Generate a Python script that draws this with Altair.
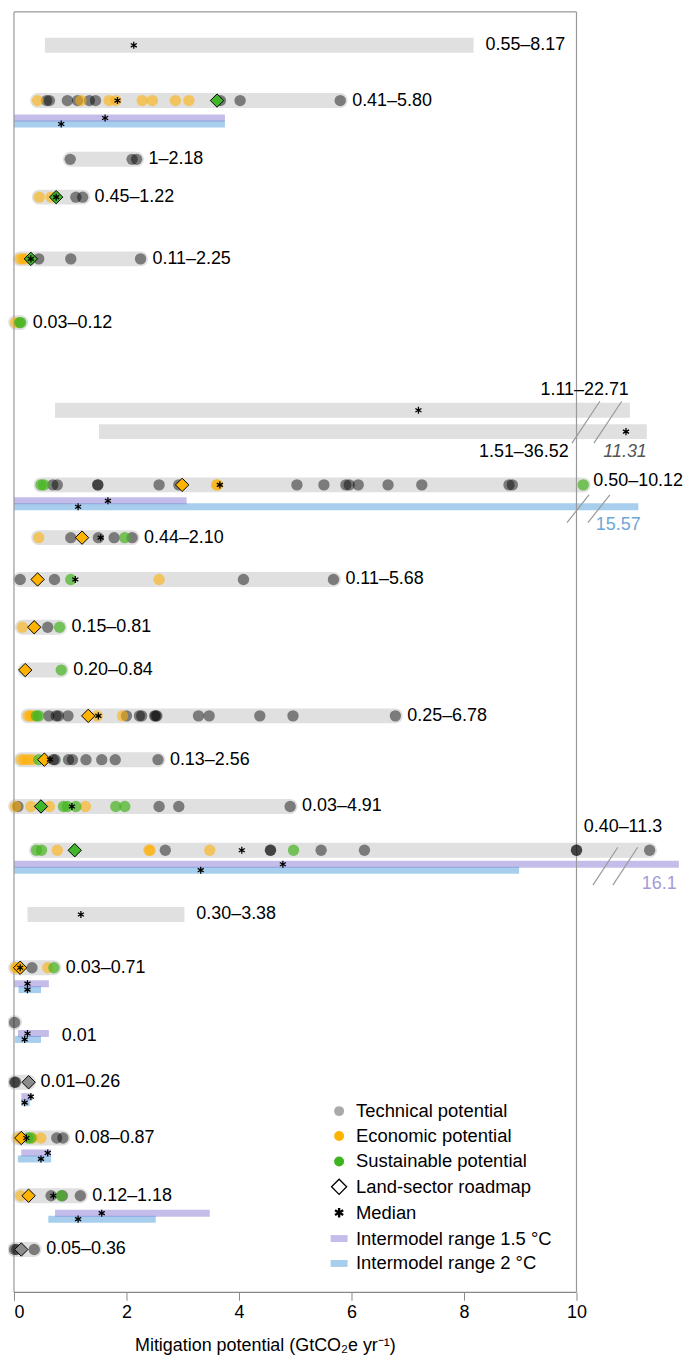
import altair as alt
import pandas as pd

# ---------------- data ----------------
RANGE_LABELS = ["0.55–8.17", "0.41–5.80", "1–2.18", "0.45–1.22", "0.11–2.25", "0.03–0.12",
                "1.11–22.71", "1.51–36.52", "0.50–10.12", "0.44–2.10", "0.11–5.68", "0.15–0.81",
                "0.20–0.84", "0.25–6.78", "0.13–2.56", "0.03–4.91", "0.40–11.3", "0.30–3.38",
                "0.03–0.71", "0.01", "0.01–0.26", "0.08–0.87", "0.12–1.18", "0.05–0.36"]

TECHNICAL = {
    1: [0.58, 0.63, 0.95, 1.13, 1.34, 1.45, 3.67, 4.02, 5.80],
    2: [1.0, 2.10, 2.18],
    3: [1.10, 1.22],
    4: [0.44, 1.01, 2.25],
    8: [0.69, 0.77, 1.49, 1.49, 2.58, 2.93, 5.03, 5.51, 5.90, 5.96, 6.12, 6.65, 7.25, 8.80, 8.86],
    9: [1.01, 1.50, 1.78, 2.10],
    10: [0.11, 0.72, 4.08, 5.68],
    11: [0.60],
    13: [0.62, 0.75, 0.79, 0.96, 2.00, 2.23, 2.27, 2.50, 2.52, 2.54, 3.28, 3.47, 4.37, 4.96, 6.78],
    14: [0.70, 0.73, 0.97, 1.04, 1.28, 1.56, 1.80, 2.56],
    15: [0.07, 2.58, 2.93, 4.91],
    16: [2.69, 4.56, 4.56, 5.46, 6.23, 10.0, 10.0, 11.3],
    18: [0.32],
    19: [0.01],
    20: [0.01, 0.03],
    21: [0.76, 0.87],
    22: [0.66, 0.86, 1.18],
    23: [0.01, 0.05, 0.36],
}
ECONOMIC = {
    1: [0.42, 1.19, 1.69, 1.81, 2.28, 2.46, 2.87, 3.11],
    3: [0.45, 0.66],
    4: [0.11, 0.16, 0.21],
    5: [0.03],
    8: [3.60, 3.62],
    9: [0.44],
    10: [2.58],
    11: [0.15],
    13: [0.25, 0.29, 0.34, 1.48, 1.93],
    14: [0.13, 0.19, 0.26, 0.33],
    15: [0.03, 0.30, 0.63, 1.27],
    16: [0.77, 2.40, 2.42, 3.48],
    18: [0.03, 0.05, 0.60],
    21: [0.08, 0.33, 0.48],
    22: [0.12],
}
SUSTAINABLE = {
    5: [0.10, 0.12],
    8: [0.48, 0.53, 10.12],
    9: [1.97],
    10: [1.01],
    11: [0.81],
    12: [0.84],
    13: [0.40, 0.44],
    14: [0.44],
    15: [0.88, 0.95, 1.10, 1.81, 1.97],
    16: [0.40, 0.49, 4.97],
    18: [0.71],
    21: [0.25, 0.30],
    22: [0.84],
}
ROADMAP = {1: (3.61, "sust"), 3: (0.75, "sust"), 4: (0.30, "sust"), 8: (2.99, "econ"),
           9: (1.21, "econ"), 10: (0.42, "econ"), 11: (0.36, "econ"), 12: (0.20, "econ"),
           13: (1.32, "econ"), 14: (0.54, "econ"), 15: (0.48, "sust"), 16: (1.08, "sust"),
           18: (0.11, "econ"), 20: (0.26, "tech"), 21: (0.13, "econ"), 22: (0.26, "econ"),
           23: (0.13, "tech")}
MEDIAN = {0: 2.13, 1: 1.84, 3: 0.75, 4: 0.30, 6: 7.19, 7: 10.88, 8: 3.66, 9: 1.54, 10: 1.09,
          13: 1.50, 14: 0.64, 15: 1.03, 16: 4.05, 17: 1.19, 18: 0.11, 21: 0.22, 22: 0.70}
RANGE_ONLY = {0: (0.55, 8.17), 6: (0.73, 10.95), 7: (1.51, 11.25), 17: (0.24, 3.03)}
IAM_15 = {1: (0.0, 3.75, 1.62), 8: (0.0, 3.07, 1.67), 16: (0.0, 11.82, 4.78),
          18: (0.0, 0.62, 0.24), 19: (0.07, 0.62, 0.24), 20: (0.13, 0.33, 0.30),
          21: (0.13, 0.66, 0.60), 22: (0.73, 3.48, 1.56)}
IAM_20 = {1: (0.0, 3.75, 0.84), 8: (0.0, 11.1, 1.14), 16: (0.0, 8.98, 3.32),
          18: (0.08, 0.48, 0.24), 19: (0.02, 0.48, 0.19), 20: (0.13, 0.28, 0.19),
          21: (0.07, 0.66, 0.48), 22: (0.61, 2.52, 1.14)}
BREAK_TEXTS = ["11.31", "15.57", "16.1"]
LEGEND_LABELS = ["Technical potential", "Economic potential", "Sustainable potential",
                 "Land-sector roadmap", "Median", "Intermodel range 1.5 °C", "Intermodel range 2 °C"]
TICKS = [0, 2, 4, 6, 8, 10]
X_TITLE = "Mitigation potential (GtCO₂e yr⁻¹)"

# ---------------- layout ----------------
XMAX = 12.0
W = 678
PPU = W / XMAX
TOP, BOTTOM = 9, 1295
H = BOTTOM - TOP
ROW_Y = [42.5, 98, 157, 195, 257, 321, 409, 430.5, 484, 537, 579, 627, 670, 716, 760, 807, 851,
         915.5, 969, 1024, 1084, 1140, 1198, 1252]
IAM_Y = {1: 115.5, 8: 500, 16: 865, 18: 985, 19: 1035, 20: 1098.5, 21: 1155, 22: 1215.5}
IAM_GAP = 6
SPECIAL_LABELS = {  # row: (x, y, align)
    6: (10.93, 389, "right"), 7: (9.86, 451, "right"), 8: (10.30, 480, "left"),
    16: (10.13, 828, "left"), 19: (0.62 + 13 / PPU, 1038, "left")}
BREAK_TEXT_POS = [(11.25, 451, "#555555", True), (11.14, 524, "#6fa7d6", False),
                  (11.78, 885, "#a59bd6", False)]
SLASHES = [(575, 442, 603, 400), (597, 442, 625, 400), (570, 522, 592, 494),
           (591, 522, 613, 494), (596, 886, 621, 848), (616, 886, 641, 848)]
LEG_SYM_X, LEG_TXT_X = 5.78, 6.08
LEG_Y = [1113, 1138, 1163.5, 1189, 1215, 1241, 1266]
FONT = "Liberation Sans"
FS = 18
LEG_FS = 18.5

def px2x(px):
    return (px - 14.5) / PPU

XS = alt.Scale(domain=[0, XMAX], nice=False, zero=False)
YS = alt.Scale(domain=[TOP, BOTTOM], reverse=True, nice=False, zero=False)
XAX = alt.Axis(values=TICKS, title=X_TITLE, domain=False, grid=False, tickSize=8,
               tickColor="#888888", labelFont=FONT, labelFontSize=FS, labelColor="black",
               labelPadding=3, titleFont=FONT, titleFontSize=FS, titleFontWeight="normal",
               titleColor="black", titleX=252, titleY=53, titleAlign="center",
               titleBaseline="middle", format="d")

def X(f="x"):
    return alt.X(f + ":Q", scale=XS, axis=XAX)

def Y(f="y"):
    return alt.Y(f + ":Q", scale=YS, axis=None)

ASTERISK = "M0,-1L0,1M-0.866,-0.5L0.866,0.5M-0.866,0.5L0.866,-0.5"

# ---------------- tables ----------------
pts = []
for kind, src in (("tech", TECHNICAL), ("econ", ECONOMIC), ("sust", SUSTAINABLE)):
    for r, vals in src.items():
        for v in vals:
            pts.append({"x": v, "y": ROW_Y[r], "kind": kind})
pts_df = pd.DataFrame(pts)

round_bars = []
row_max = {}
for r in range(len(RANGE_LABELS)):
    vals = TECHNICAL.get(r, []) + ECONOMIC.get(r, []) + SUSTAINABLE.get(r, [])
    if r in ROADMAP:
        vals = vals + [ROADMAP[r][0]]
    if vals:
        round_bars.append({"x": min(vals), "x2": max(vals), "y": ROW_Y[r]})
        row_max[r] = max(vals)
round_df = pd.DataFrame(round_bars)
flat_df = pd.DataFrame([{"x": lo, "x2": hi, "y": ROW_Y[r]} for r, (lo, hi) in RANGE_ONLY.items()])
for r, (lo, hi) in RANGE_ONLY.items():
    row_max[r] = hi

road_df = pd.DataFrame([{"x": v, "y": ROW_Y[r], "kind": k} for r, (v, k) in ROADMAP.items()])
med = [{"x": v, "y": ROW_Y[r]} for r, v in MEDIAN.items()]
iam15 = [{"x": lo, "x2": hi, "y": IAM_Y[r]} for r, (lo, hi, m) in IAM_15.items()]
iam20 = [{"x": lo, "x2": hi, "y": IAM_Y[r] + IAM_GAP} for r, (lo, hi, m) in IAM_20.items()]
med += [{"x": m, "y": IAM_Y[r]} for r, (lo, hi, m) in IAM_15.items()]
med += [{"x": m, "y": IAM_Y[r] + IAM_GAP} for r, (lo, hi, m) in IAM_20.items()]
med_df = pd.DataFrame(med)

lab_left, lab_right = [], []
for r, t in enumerate(RANGE_LABELS):
    if r in SPECIAL_LABELS:
        x, y, a = SPECIAL_LABELS[r]
        (lab_left if a == "left" else lab_right).append({"x": x, "y": y, "t": t, "c": "black"})
    else:
        lab_left.append({"x": row_max[r] + 12 / PPU, "y": ROW_Y[r], "t": t, "c": "black"})
italic_lab = []
for t, (x, y, c, it) in zip(BREAK_TEXTS, BREAK_TEXT_POS):
    (italic_lab if it else lab_right).append({"x": x, "y": y, "t": t, "c": c})

frame_df = pd.DataFrame([
    {"x": 0, "x2": 0, "y": TOP, "y2": BOTTOM},
    {"x": 10, "x2": 10, "y": TOP, "y2": BOTTOM},
    {"x": 0, "x2": 10, "y": TOP, "y2": TOP},
])
axis_df = pd.DataFrame([{"x": 0, "x2": 10, "y": BOTTOM, "y2": BOTTOM}])
slash_df = pd.DataFrame([{"x": px2x(a), "x2": px2x(c), "y": b, "y2": d} for a, b, c, d in SLASHES])

# ---------------- layers ----------------
gray_round = alt.Chart(round_df).mark_rule(strokeWidth=15, strokeCap="round", color="#e0e0e0").encode(
    x=X(), x2="x2:Q", y=Y())
gray_flat = alt.Chart(flat_df).mark_rule(strokeWidth=15, strokeCap="butt", color="#e0e0e0").encode(
    x=X(), x2="x2:Q", y=Y())
blue = alt.Chart(pd.DataFrame(iam20)).mark_rule(strokeWidth=7, strokeCap="butt", color="#50a0dc",
                                                  opacity=0.5).encode(x=X(), x2="x2:Q", y=Y())
purple = alt.Chart(pd.DataFrame(iam15)).mark_rule(strokeWidth=7, strokeCap="butt", color="#6e5ac8",
                                                    opacity=0.4).encode(x=X(), x2="x2:Q", y=Y())
frame = alt.Chart(frame_df).mark_rule(color="#999999", strokeWidth=1.2).encode(
    x=X(), x2="x2:Q", y=Y(), y2="y2:Q")
axis_line = alt.Chart(axis_df).mark_rule(color="#888888", strokeWidth=1.2).encode(
    x=X(), x2="x2:Q", y=Y(), y2="y2:Q")
points = alt.Chart(pts_df).mark_circle(size=130).encode(
    x=X(), y=Y(),
    color=alt.Color("kind:N", scale=alt.Scale(domain=["tech", "econ", "sust"],
                                              range=["#000000", "#ffb000", "#44b41e"]), legend=None),
    opacity=alt.Opacity("kind:N", scale=alt.Scale(domain=["tech", "econ", "sust"],
                                                  range=[0.45, 0.7, 0.7]), legend=None))
diamonds = alt.Chart(road_df).mark_point(shape="diamond", size=180, filled=True, stroke="black",
                                         strokeWidth=1, opacity=1).encode(
    x=X(), y=Y(),
    fill=alt.Fill("kind:N", scale=alt.Scale(domain=["tech", "econ", "sust"],
                                            range=["#8c8c8c", "#ffb300", "#41b62a"]), legend=None))
medians = alt.Chart(med_df).mark_point(shape=ASTERISK, size=50, filled=False, color="black",
                                       strokeWidth=1.3, opacity=1).encode(x=X(), y=Y())
slashes = alt.Chart(slash_df).mark_rule(color="#9a9a9a", strokeWidth=1.2).encode(
    x=X(), x2="x2:Q", y=Y(), y2="y2:Q")

def text_layer(rows, align, italic=False, fs=FS):
    return alt.Chart(pd.DataFrame(rows)).mark_text(
        align=align, baseline="middle", font=FONT, fontSize=fs,
        fontStyle="italic" if italic else "normal").encode(
        x=X(), y=Y(), text="t:N", color=alt.Color("c:N", scale=None))

labels_l = text_layer(lab_left, "left")
labels_r = text_layer(lab_right, "right")
labels_i = text_layer(italic_lab, "right", True)

# legend
leg_circ = alt.Chart(pd.DataFrame({"x": [LEG_SYM_X] * 3, "y": LEG_Y[:3],
                                   "c": ["#aaaaaa", "#ffb400", "#3cb51e"]})).mark_circle(
    size=100, opacity=1).encode(x=X(), y=Y(), color=alt.Color("c:N", scale=None))
leg_diam = alt.Chart(pd.DataFrame({"x": [LEG_SYM_X], "y": [LEG_Y[3]]})).mark_point(
    shape="diamond", size=230, filled=True, fill="white", stroke="black", strokeWidth=1.3,
    opacity=1).encode(x=X(), y=Y())
leg_star = alt.Chart(pd.DataFrame({"x": [LEG_SYM_X], "y": [LEG_Y[4]]})).mark_point(
    shape=ASTERISK, size=90, filled=False, color="black", strokeWidth=2.4, opacity=1).encode(x=X(), y=Y())
half = 8.5 / PPU
leg_p = alt.Chart(pd.DataFrame({"x": [LEG_SYM_X - half], "x2": [LEG_SYM_X + half], "y": [LEG_Y[5]]})).mark_rule(
    strokeWidth=7, color="#6e5ac8", opacity=0.4).encode(x=X(), x2="x2:Q", y=Y())
leg_b = alt.Chart(pd.DataFrame({"x": [LEG_SYM_X - half], "x2": [LEG_SYM_X + half], "y": [LEG_Y[6]]})).mark_rule(
    strokeWidth=7, color="#50a0dc", opacity=0.5).encode(x=X(), x2="x2:Q", y=Y())
leg_txt = text_layer([{"x": LEG_TXT_X, "y": y, "t": t, "c": "black"} for t, y in zip(LEGEND_LABELS, LEG_Y)],
                     "left", fs=LEG_FS)

chart = alt.layer(
    gray_round, gray_flat, blue, purple, frame, axis_line, points, diamonds, medians, slashes,
    labels_l, labels_r, labels_i, leg_circ, leg_diam, leg_star, leg_p, leg_b, leg_txt
).properties(
    width=W, height=H,
    autosize=alt.AutoSizeParams(type="none"),
    padding={"left": 6, "top": 1, "right": 0, "bottom": 66},
).configure_view(stroke=None)

chart.save("out.html", embed_options={"renderer": "svg", "actions": False})
